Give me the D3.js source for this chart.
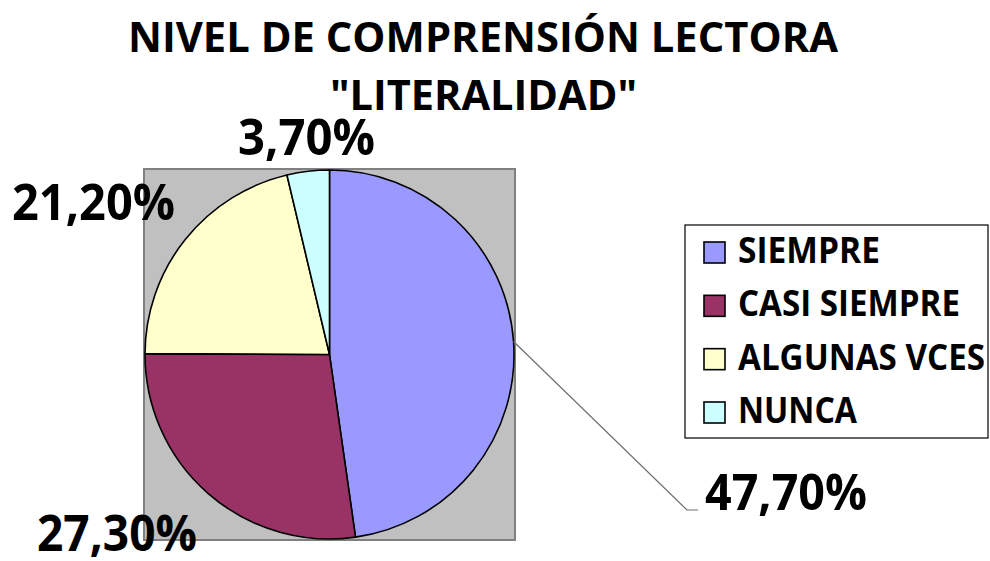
<!DOCTYPE html>
<html>
<head>
<meta charset="utf-8">
<script src="https://cdn.jsdelivr.net/npm/d3@7/dist/d3.min.js"></script>
<style>
  html, body { margin: 0; padding: 0; background: #fff; }
  text { font-family: "Open Sans", "Liberation Sans", sans-serif; font-weight: 700; fill: #000; }
</style>
</head>
<body>
<svg id="chart" width="990" height="561"></svg>
<script>
// ---- data ----
const categories = ["SIEMPRE", "CASI SIEMPRE", "ALGUNAS VCES", "NUNCA"];
const values = [47.7, 27.3, 21.2, 3.7];
const valueLabels = ["47,70%", "27,30%", "21,20%", "3,70%"];
const colors = ["#9999FF", "#993366", "#FFFFCC", "#CCFFFF"];
const titleLines = ["NIVEL DE COMPRENSIÓN LECTORA", "\"LITERALIDAD\""];

// ---- layout ----
const svg = d3.select("#chart");
const cx = 329.5, cy = 354.5, r = 184.5;
const plot = { x: 144, y: 169, w: 371, h: 371 };

// title
const titleLayout = [
  { x: 128, y: 52, w: 710 },
  { x: 330, y: 110, w: 307 }
];
svg.selectAll("text.title").data(titleLines).join("text")
  .attr("class", "title")
  .attr("x", (d, i) => titleLayout[i].x)
  .attr("y", (d, i) => titleLayout[i].y)
  .attr("textLength", (d, i) => titleLayout[i].w)
  .attr("lengthAdjust", "spacingAndGlyphs")
  .style("font-size", "41px")
  .text(d => d);

// plot area
svg.append("rect")
  .attr("x", plot.x).attr("y", plot.y)
  .attr("width", plot.w).attr("height", plot.h)
  .attr("fill", "#C0C0C0")
  .attr("stroke", "#808080")
  .attr("stroke-width", 2);

// pie
const pie = d3.pie().sort(null).value(d => d).startAngle(0).endAngle(2 * Math.PI);
const arcs = pie(values);
const arc = d3.arc().innerRadius(0).outerRadius(r);

const g = svg.append("g").attr("transform", `translate(${cx},${cy})`);
g.selectAll("path").data(arcs).join("path")
  .attr("d", arc)
  .attr("fill", (d, i) => colors[i])
  .attr("stroke", "#000")
  .attr("stroke-width", 1.6)
  .attr("stroke-linejoin", "round");

// leader line for the first slice
const a0 = (arcs[0].startAngle + arcs[0].endAngle) / 2;
const edge = [cx + r * Math.sin(a0), cy - r * Math.cos(a0)];
svg.append("polyline")
  .attr("points", [edge, [687, 510], [698, 510]].map(p => p.join(",")).join(" "))
  .attr("fill", "none")
  .attr("stroke", "#6e6e6e")
  .attr("stroke-width", 1.2);

// value labels
const labelLayout = [
  { x: 705, y: 510, w: 162 },
  { x: 37, y: 551, w: 160 },
  { x: 12, y: 220, w: 163 },
  { x: 238, y: 155, w: 137 }
];
svg.selectAll("text.val").data(valueLabels).join("text")
  .attr("class", "val")
  .attr("x", (d, i) => labelLayout[i].x)
  .attr("y", (d, i) => labelLayout[i].y)
  .attr("textLength", (d, i) => labelLayout[i].w)
  .attr("lengthAdjust", "spacingAndGlyphs")
  .style("font-size", "50px")
  .text(d => d);

// legend
const leg = { x: 685, y: 225, w: 303, h: 213 };
svg.append("rect")
  .attr("x", leg.x).attr("y", leg.y)
  .attr("width", leg.w).attr("height", leg.h)
  .attr("fill", "#fff")
  .attr("stroke", "#000")
  .attr("stroke-width", 1.2);

const legendY = d3.scalePoint().domain(categories).range([252.5, 412.5]);
const legendW = [142, 222, 247, 119];
const items = svg.selectAll("g.leg").data(categories).join("g")
  .attr("class", "leg")
  .attr("transform", d => `translate(0,${legendY(d)})`);
items.append("rect")
  .attr("x", 704).attr("y", -10.5)
  .attr("width", 21).attr("height", 21)
  .attr("fill", (d, i) => colors[i])
  .attr("stroke", "#000")
  .attr("stroke-width", 1.6);
items.append("text")
  .attr("x", 738).attr("y", 10.5)
  .attr("textLength", (d, i) => legendW[i])
  .attr("lengthAdjust", "spacingAndGlyphs")
  .style("font-size", "35px")
  .text(d => d);
</script>
</body>
</html>
